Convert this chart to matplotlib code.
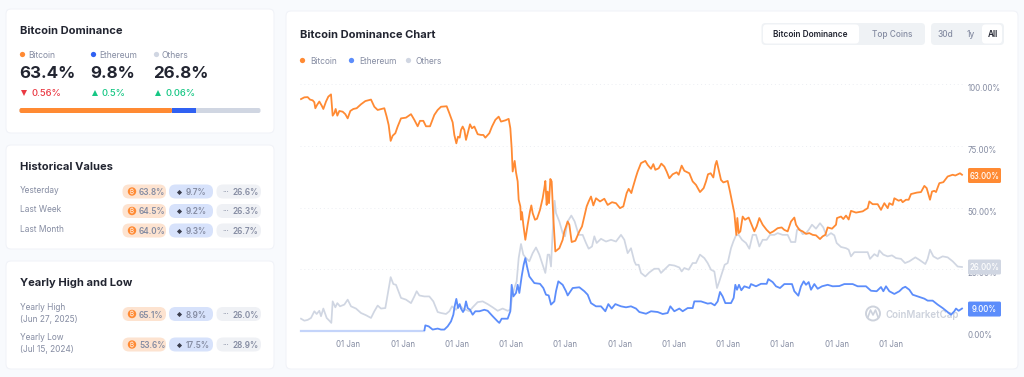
import numpy as np
import matplotlib
matplotlib.use('Agg')
import matplotlib.pyplot as plt
from matplotlib.patches import FancyBboxPatch, Circle
from matplotlib.transforms import ScaledTranslation

plt.rcParams['font.family'] = ['Inter', 'DejaVu Sans']

# time index is in steps of about 2.2 days, one year is about 163 steps
year_ticks = [157, 320, 482, 645, 808, 971, 1133, 1296, 1459, 1622, 1784]
year_labels = ['01 Jan'] * 11
pct_ticks = [0, 25, 50, 75, 100]
pct_labels = ['0.00%', '25.00%', '50.00%', '75.00%', '100.00%']

btc_t = [15, 25, 35, 42, 50, 55, 58, 63, 70, 77, 82, 90, 97, 105, 110, 115, 119, 124, 130, 140, 148, 155, 163, 172, 182,
         195, 208, 225, 235, 245, 265, 272, 278, 284, 290, 298, 305, 315, 330, 345, 355, 365, 372, 382, 390, 402, 415,
         425, 435, 452, 460, 470, 475, 481, 486, 491, 495, 500, 505,
         510, 515, 522, 528, 535, 545, 555, 562, 568, 580, 588, 598, 608, 615, 628, 638, 643, 647, 650, 656, 660, 665,
         668, 673, 675, 678, 682, 688, 695, 702, 706, 710, 717, 723, 732, 740, 745, 748, 752, 755, 759, 763, 767, 772,
         778, 790, 800, 805, 815, 820, 827, 838, 850, 858, 865, 872, 878, 885, 892, 900, 912, 925, 935, 948, 960, 972,
         982, 992, 998, 1006, 1010, 1020,
         1025, 1035, 1048, 1055, 1065, 1072, 1078, 1088, 1096, 1105, 1112, 1120, 1130, 1142, 1148, 1157, 1165, 1180,
         1190, 1200, 1212, 1223, 1230, 1236, 1244, 1252, 1258, 1262, 1267, 1275, 1282, 1295, 1302, 1310, 1315, 1321,
         1324, 1328, 1333, 1340, 1347, 1358, 1365, 1375, 1382, 1390, 1400, 1412, 1422, 1432, 1445, 1457, 1465, 1475,
         1485, 1495, 1500, 1510, 1520, 1530,
         1540, 1550, 1560, 1572, 1580, 1588, 1595, 1608, 1620, 1623, 1635, 1642, 1650, 1658, 1665, 1680, 1700, 1715,
         1720, 1730, 1745, 1755, 1765, 1775, 1780, 1790, 1795, 1808, 1815, 1820, 1830, 1838, 1845, 1863, 1875, 1885,
         1892, 1902, 1908, 1915, 1920, 1930, 1942, 1955, 1970, 1978, 1992, 1998]
btc_v = [93.9, 94.6, 94.7, 93.7, 93.4, 92.6, 90.2, 91.5, 92.9, 91.3, 89.9, 92.9, 94.9, 95.8, 87.2, 88.2, 89.9, 87.2, 89.1,
         88.8, 87.8, 86.1, 89.1, 89.9, 90.2,
         91.8, 93.1, 93.7, 90.8, 89.5, 90.2, 86.8, 83.4, 77.0, 79.1, 80.1, 82.8, 86.1, 86.4, 87.8, 85.5, 82.9, 85.1,
         85.1, 82.9, 82.9, 87.5,
         89.5, 90.8, 91.0, 88.2, 84.5, 79.4, 76.0, 78.7, 78.3, 81.4, 82.8, 81.4,
         77.4, 80.1, 83.7, 82.1, 82.8, 79.7, 79.4, 79.4, 78.3, 80.1, 82.8, 85.5, 86.8, 84.8, 85.3, 85.9, 82.1, 74.0,
         64.6, 68.9, 64.3, 60.6,
         53.2, 50.5, 45.1, 48.2, 43.1, 37.0, 43.1, 48.5, 50.9, 47.8, 45.1, 45.5, 49.1, 53.8, 57.9, 60.8, 51.1, 56.5,
         51.8, 61.6, 60.6, 45.8,
         32.3, 33.6, 37.0, 40.4, 44.4, 43.1, 36.1, 36.6, 40.4, 42.4, 46.4, 50.5, 52.5, 54.5, 50.9, 53.8, 52.5, 53.6,
         51.1, 52.2, 51.8, 49.8,
         50.5, 55.9, 57.6, 55.9, 57.9, 62.5,
         64.6, 68.0, 68.9, 67.3, 65.7, 67.6, 65.3, 65.9, 67.8, 66.6, 64.6, 61.9, 63.5, 64.3, 63.3, 67.0, 64.9, 63.9,
         60.6, 59.2, 56.3, 57.9, 60.6, 63.5, 63.9, 62.2, 67.3, 68.9, 65.9, 61.2, 60.2, 60.8, 56.5, 51.1, 47.8, 39.0,
         45.8, 39.7, 40.4, 46.4, 45.1, 46.0, 43.7, 40.4, 42.4, 45.8, 43.1, 41.0, 39.7, 40.4, 41.7, 42.0, 41.0, 40.4,
         44.4, 46.0, 43.1, 41.0, 40.4, 39.4,
         39.7, 39.0, 38.8, 37.3, 38.4, 39.0, 42.0, 41.5, 43.1, 45.8, 46.4, 45.4, 46.8, 45.2, 48.7, 48.0, 48.5, 49.8,
         52.5, 51.4, 51.4, 49.1, 51.8, 49.8, 51.8, 51.1, 53.8, 52.8, 53.2, 52.2, 53.2, 53.2, 55.5, 56.1, 56.3, 58.8,
         57.9, 53.2, 56.5, 56.8, 56.3, 59.9, 60.3, 62.6, 63.3, 63.0, 63.9, 63.3]

eth_t = [15, 385, 388, 398, 410, 425, 435, 445, 455, 465, 472, 476, 481, 486, 491, 495, 501, 505, 510,
         515, 522, 530, 538, 550, 565, 575, 590, 605, 610, 617, 635, 643, 647, 652, 660, 665, 670, 677, 683, 688, 693,
         700, 715, 732, 742, 750, 758, 765, 775, 780, 787, 800, 810, 815, 830, 850, 865, 875, 885, 900, 915, 928, 937,
         947, 958, 975, 990, 1005, 1020,
         1030, 1050, 1065, 1085, 1100, 1115, 1123, 1135, 1150, 1160, 1175, 1190, 1195, 1215, 1235, 1245, 1256, 1265,
         1272, 1280, 1288, 1305, 1313, 1318, 1323, 1329, 1336, 1345, 1360, 1365, 1380, 1395, 1412, 1417, 1430, 1440,
         1452, 1465, 1488, 1495, 1507, 1515, 1523, 1530,
         1538, 1545, 1555, 1565, 1578, 1595, 1610, 1630, 1645, 1670, 1685, 1710, 1725, 1742, 1755, 1762, 1770, 1780,
         1795, 1810, 1820, 1828, 1840, 1850, 1865, 1885, 1895, 1910, 1925, 1940, 1955, 1965, 1975, 1980, 1988, 1998]
eth_v = [0.2, 0.2, 2.4, 2.0, 0.7, 1.1, 0.7, 0.7, 2.0, 4.0, 6.7, 10.1, 13.1, 9.4, 11.0, 9.2, 7.8, 8.7, 12.1,
         9.4, 8.7, 6.7, 8.1, 8.1, 8.7, 8.3, 6.1, 4.0, 3.4, 5.1, 5.1, 8.1, 18.8, 14.1, 15.5, 18.8, 15.5, 22.2, 26.9,
         29.6, 26.2,
         22.2, 19.5, 19.2, 17.5, 14.8, 14.5, 10.8, 12.1, 16.2, 20.2, 18.8, 16.2, 14.5, 17.5, 17.8, 16.2, 14.8, 11.4,
         10.1, 10.1, 8.1, 11.0,
         9.2, 11.0, 10.1, 9.7, 10.1, 9.2,
         7.8, 7.1, 8.1, 7.8, 7.0, 7.4, 10.1, 8.1, 9.2, 8.1, 9.4, 9.4, 12.1, 12.1, 11.2, 11.4, 10.5, 12.1,
         15.9, 14.1, 11.4, 11.4, 13.5, 18.8, 16.8, 18.8, 16.6, 18.2, 17.5, 19.1, 18.2, 19.2, 19.2, 21.1, 19.9, 18.2,
         17.5, 19.1, 19.1, 16.2, 14.4, 18.2, 20.2, 18.8,
         19.9, 16.8, 19.1, 17.2, 18.2, 18.8, 18.2, 18.3, 19.1, 19.1, 18.2, 18.2, 16.4, 16.2, 17.9, 16.2, 18.2, 16.2,
         15.1, 16.2, 17.5, 18.0, 16.8, 14.8, 14.1, 13.2, 12.4, 12.4, 10.8, 9.4, 7.8, 6.7, 8.1, 9.2, 8.3, 9.2]

oth_t = [15, 25, 35, 45, 55, 62, 70, 75, 82, 92, 100, 106, 110, 118, 124, 132, 145, 155, 165, 180, 195, 210, 225, 235,
         245, 255, 268, 275, 284, 292, 300, 315, 330, 345, 355, 362, 370, 385, 400, 412, 425, 435, 450, 460, 468, 480,
         490, 500,
         510, 520, 530, 545, 560, 575, 590, 605, 620, 635, 643, 648, 655, 662, 668, 675, 682, 690, 700, 710, 720, 730,
         740, 748, 755, 760, 765, 770, 776, 780, 790, 800, 807, 815, 826, 836, 848, 860, 870, 878, 888, 895, 902, 915,
         930, 945, 960, 975, 985, 995, 1005, 1015, 1020,
         1028, 1035, 1048, 1060, 1075, 1088, 1095, 1105, 1120, 1135, 1150, 1157, 1165, 1178, 1190, 1200, 1212, 1225,
         1235, 1245, 1255, 1263, 1270, 1278, 1286, 1295, 1305, 1312, 1320, 1328, 1338, 1350, 1360, 1370, 1380, 1390,
         1400, 1412, 1422, 1435, 1445, 1460, 1475, 1485, 1498, 1503, 1510, 1520, 1530,
         1538, 1548, 1560, 1572, 1582, 1592, 1605, 1615, 1622, 1635, 1650, 1658, 1665, 1675, 1695, 1715, 1722, 1735,
         1745, 1750, 1762, 1775, 1788, 1800, 1815, 1827, 1840, 1858, 1870, 1888, 1895, 1902, 1912, 1925, 1940, 1955,
         1970, 1985, 1998]
oth_v = [5.1, 4.3, 4.6, 5.4, 8.1, 7.0, 8.3, 6.1, 9.2, 5.4, 4.3, 3.4, 12.1, 9.7, 11.4, 10.1, 10.8, 12.8, 10.1, 9.2, 7.4,
         6.5, 5.4, 8.1,
         10.4, 9.2, 9.4, 14.8, 21.9, 19.1, 18.8, 13.5, 12.8, 11.4, 14.1, 16.2, 14.5, 14.1, 14.1, 12.1, 7.8, 7.4, 7.0,
         8.1, 10.1, 8.7,
         10.8, 9.2,
         8.7, 8.1, 9.7, 11.8, 12.1, 11.0, 9.7, 8.3, 9.2, 8.3, 8.7, 13.5, 17.5, 20.2, 29.6, 35.3, 31.0, 29.6, 28.3, 31.6,
         33.9, 31.0,
         26.9, 23.6, 31.0, 31.0, 26.2, 40.4, 52.8, 47.8, 44.4, 39.7, 38.4, 44.4, 46.8, 44.4, 39.0, 39.0, 35.7, 33.4,
         34.3, 38.4, 35.7, 37.4,
         36.3, 37.0, 36.3, 39.0, 37.0, 31.6, 33.6, 28.3, 26.9,
         26.9, 23.6, 22.2, 23.8, 25.3, 25.3, 23.6, 24.9, 26.9, 26.6, 25.8, 24.2, 25.6, 24.9, 27.6, 27.6, 31.0, 29.6,
         27.6, 24.9, 24.2, 17.5, 20.2, 23.6, 26.9, 27.6, 33.6, 36.3, 38.8, 39.0, 37.0, 35.7, 33.4, 39.0, 39.0, 34.3,
         37.0, 37.0, 39.0, 39.0, 39.7, 39.0, 39.0, 36.1, 36.1, 41.0, 41.5, 39.3, 39.7,
         41.0, 43.1, 41.5, 43.7, 42.0, 38.4, 39.7, 38.8, 35.7, 34.1, 33.6, 33.0, 30.3, 32.0, 32.0, 32.0, 29.3, 31.2,
         30.3, 32.7, 31.0, 30.3, 30.7, 29.6, 29.3, 27.6, 28.3, 29.9, 28.9, 27.2, 29.3, 33.0, 30.3, 29.3, 30.3, 29.9,
         28.3, 26.2, 26.0]

# left hand panels
coins = ['Bitcoin', 'Ethereum', 'Others']
now_vals = ['63.4%', '9.8%', '26.8%']
changes = ['0.56%', '0.5%', '0.06%']
shares = [63.4, 9.8, 26.8]
hist_rows = ['Yesterday', 'Last Week', 'Last Month']
hist_btc = ['63.8%', '64.5%', '64.0%']
hist_eth = ['9.7%', '9.2%', '9.3%']
hist_oth = ['26.6%', '26.3%', '26.7%']
year_rows = [('Yearly High', '(Jun 27, 2025)'), ('Yearly Low', '(Jul 15, 2024)')]
year_btc = ['65.1%', '53.6%']
year_eth = ['8.9%', '17.5%']
year_oth = ['26.0%', '28.9%']

ORANGE = '#ff8a33'
BLUE = '#5c8dfb'
BLUE2 = '#3061f2'
GREY = '#d0d6e2'
DARK = '#222531'
MUTED = '#858ca2'

fig = plt.figure(figsize=(10.24, 3.77), dpi=100, facecolor='#f8fafd')

bg = fig.add_axes([0, 0, 1, 1], zorder=0)
bg.set_xlim(0, 1024)
bg.set_ylim(377, 0)
bg.axis('off')

top = fig.add_axes([0, 0, 1, 1], zorder=2)
top.set_xlim(0, 1024)
top.set_ylim(377, 0)
top.axis('off')
top.patch.set_alpha(0)


def rbox(a, x0, y0, x1, y1, r, color, edge='none', z=1):
    p = FancyBboxPatch((x0 + r, y0 + r), x1 - x0 - 2 * r, y1 - y0 - 2 * r, boxstyle='round,pad=%f,rounding_size=%f' % (r, r),
                       fc=color, ec=edge, lw=0.8, zorder=z)
    a.add_patch(p)


def pill_row(y, b, e, o):
    rbox(bg, 122.5, y - 7, 166, y + 7, 6.5, '#fde3d0', z=2)
    rbox(bg, 169, y - 7, 213, y + 7, 6.5, '#d7e2fb', z=2)
    rbox(bg, 216.5, y - 7, 261, y + 7, 6.5, '#eff1f5', z=2)
    bg.add_patch(Circle((132, y), 4.2, fc=ORANGE, ec='none', zorder=3))
    bg.text(132, y + 0.5, '₿', color='white', fontsize=4.5, ha='center', va='center', zorder=4)
    bg.plot([179], [y], marker='D', ms=2.6, color='#3a3d4c', mew=0, zorder=4)
    bg.text(226, y + 0.5, '···', color=MUTED, fontsize=5.5, ha='center', va='center', zorder=4)
    bg.text(139, y + 1, b, color=MUTED, fontsize=5.9, fontweight='semibold', va='center', zorder=4)
    bg.text(186, y + 1, e, color=MUTED, fontsize=5.9, fontweight='semibold', va='center', zorder=4)
    bg.text(232.5, y + 1, o, color=MUTED, fontsize=5.9, fontweight='semibold', va='center', zorder=4)


# cards
rbox(bg, 6, 9, 274, 133, 5, 'white', '#f1f3f8')
rbox(bg, 6, 145, 274, 249, 5, 'white', '#f1f3f8')
rbox(bg, 6, 261, 274, 369, 5, 'white', '#f1f3f8')
rbox(bg, 286, 11, 1018, 369, 5, 'white', '#f1f3f8')

# dominance card
bg.text(20, 31, 'Bitcoin Dominance', color=DARK, fontsize=8.0, fontweight='bold', va='center')
dot_x = [22, 93, 156]
dot_c = [ORANGE, BLUE2, GREY]
tri_c = ['#ea3943', '#16c784', '#16c784']
tri_m = ['v', '^', '^']
for i in range(3):
    bg.plot([dot_x[i]], [54], 'o', ms=3.8, color=dot_c[i], mew=0, zorder=3)
    bg.text(dot_x[i] + 6, 55, coins[i], color=MUTED, fontsize=6.1, va='center')
    bg.text(dot_x[i] - 3, 74, now_vals[i], color=DARK, fontsize=12.2, fontweight='bold', va='center')
    bg.plot([dot_x[i] + 2], [93], marker=tri_m[i], ms=4, color=tri_c[i], mew=0, zorder=3)
    bg.text(dot_x[i] + 9, 94, changes[i], color=tri_c[i], fontsize=6.8, fontweight='medium', va='center')

# stacked progress bar
bar_x = 19.5
bar_w = 241
rbox(bg, bar_x, 108, bar_x + bar_w, 113, 2, GREY, z=2)
left = bar_x
for s, c in zip(shares[:2], [ORANGE, BLUE2]):
    w = bar_w * s / sum(shares)
    if c == ORANGE:
        rbox(bg, left, 108, left + w, 113, 2, c, z=3)
    else:
        bg.barh(110.5, w, height=5, left=left, color=c, zorder=3)
    left += w
bg.set_xlim(0, 1024)
bg.set_ylim(377, 0)

# historical card
bg.text(20, 167, 'Historical Values', color=DARK, fontsize=8.0, fontweight='bold', va='center')
for name, b, e, o, y in zip(hist_rows, hist_btc, hist_eth, hist_oth, [191.5, 211, 230.5]):
    bg.text(20, y - 1, name, color=MUTED, fontsize=6.0, va='center')
    pill_row(y, b, e, o)

# yearly card
bg.text(20, 283, 'Yearly High and Low', color=DARK, fontsize=8.0, fontweight='bold', va='center')
for name, b, e, o, y in zip(year_rows, year_btc, year_eth, year_oth, [314, 344.5]):
    bg.text(20, y - 7, name[0], color=MUTED, fontsize=6.0, va='center')
    bg.text(20, y + 5.5, name[1], color=MUTED, fontsize=6.0, va='center')
    pill_row(y, b, e, o)

# chart header
bg.text(299.5, 34.5, 'Bitcoin Dominance Chart', color=DARK, fontsize=8.0, fontweight='bold', va='center')
legend_x = [302, 351, 408]
for x, c, name in zip(legend_x, [ORANGE, BLUE, GREY], coins):
    bg.plot([x], [60], 'o', ms=3.8, color=c, mew=0, zorder=3)
    bg.text(x + 8, 61, name, color=MUTED, fontsize=6.0, va='center')

rbox(bg, 761.5, 23, 925, 45, 4, '#eff2f5', z=2)
rbox(bg, 763, 24.5, 859, 43.5, 3.5, 'white', z=3)
rbox(bg, 931, 23, 1004, 45, 4, '#eff2f5', z=2)
rbox(bg, 982, 24.5, 1002, 43.5, 3.5, 'white', z=3)
bg.text(810.5, 34.8, 'Bitcoin Dominance', color=DARK, fontsize=5.95, fontweight='semibold', ha='center', va='center', zorder=4)
bg.text(892.5, 34.8, 'Top Coins', color=MUTED, fontsize=5.95, fontweight='medium', ha='center', va='center', zorder=4)
bg.text(945.5, 34.8, '30d', color=MUTED, fontsize=5.95, fontweight='medium', ha='center', va='center', zorder=4)
bg.text(970.5, 34.8, '1y', color=MUTED, fontsize=5.95, fontweight='medium', ha='center', va='center', zorder=4)
bg.text(992.5, 34.8, 'All', color=DARK, fontsize=5.95, fontweight='semibold', ha='center', va='center', zorder=4)

# watermark
wm = '#cdd2dc'
bg.add_patch(Circle((873, 313.5), 7, fc='none', ec=wm, lw=1.4, zorder=3))
bg.plot([868, 870.5, 873, 875.5, 878], [317, 310, 315, 310, 317], color=wm, lw=1.2, zorder=3)
bg.text(886, 315, 'CoinMarketCap', color=wm, fontsize=7.0, fontweight='semibold', va='center', zorder=3)

# main chart
ax = fig.add_axes([300 / 1024, 1 - 331.3 / 377, 665 / 1024, 247.3 / 377], zorder=1)
ax.patch.set_alpha(0)
ax.set_xlim(12, 2007)
ax.set_ylim(0, 100)
for s in ax.spines.values():
    s.set_visible(False)
ax.grid(axis='y', color='#eceef3', lw=0.7, ls=(0, (1, 3)))
ax.set_axisbelow(True)
ax.plot(oth_t, oth_v, color=GREY, lw=1.25, solid_joinstyle='round')
ax.plot(eth_t[:2], eth_v[:2], color='#c4d4fa', lw=1.6, clip_on=False)
ax.plot(eth_t[1:], eth_v[1:], color=BLUE, lw=1.3, solid_joinstyle='round')
ax.plot(btc_t, btc_v, color=ORANGE, lw=1.3, solid_joinstyle='round')

ax.set_xticks(year_ticks)
ax.set_xticklabels(year_labels, color=MUTED, fontsize=5.7)
ax.yaxis.tick_right()
ax.set_yticks(pct_ticks)
ax.set_yticklabels(pct_labels, color=MUTED, fontsize=5.7, va='center')
ax.tick_params(axis='both', length=0)
ax.tick_params(axis='x', pad=6)
ax.tick_params(axis='y', pad=2)
# the price scale labels sit just under their gridlines
for lab in ax.get_yticklabels():
    lab.set_transform(lab.get_transform() + ScaledTranslation(0, -4.5 / 100, fig.dpi_scale_trans))

# last value tags
tag_vals = [63.0, 26.0, 9.0]
tag_text = ['63.00%', '26.00%', '9.00%']
tag_col = [ORANGE, GREY, BLUE]
for v, t, c in zip(tag_vals, tag_text, tag_col):
    y = 331.3 - v * 2.473
    rbox(top, 968, y - 7.5, 1001, y + 7.5, 1.5, c, z=3)
    top.text(984.5, y + 0.7, t, color='white', fontsize=5.7, fontweight='medium', ha='center', va='center', zorder=4)

fig.savefig('out.png', dpi=100, facecolor=fig.get_facecolor())
